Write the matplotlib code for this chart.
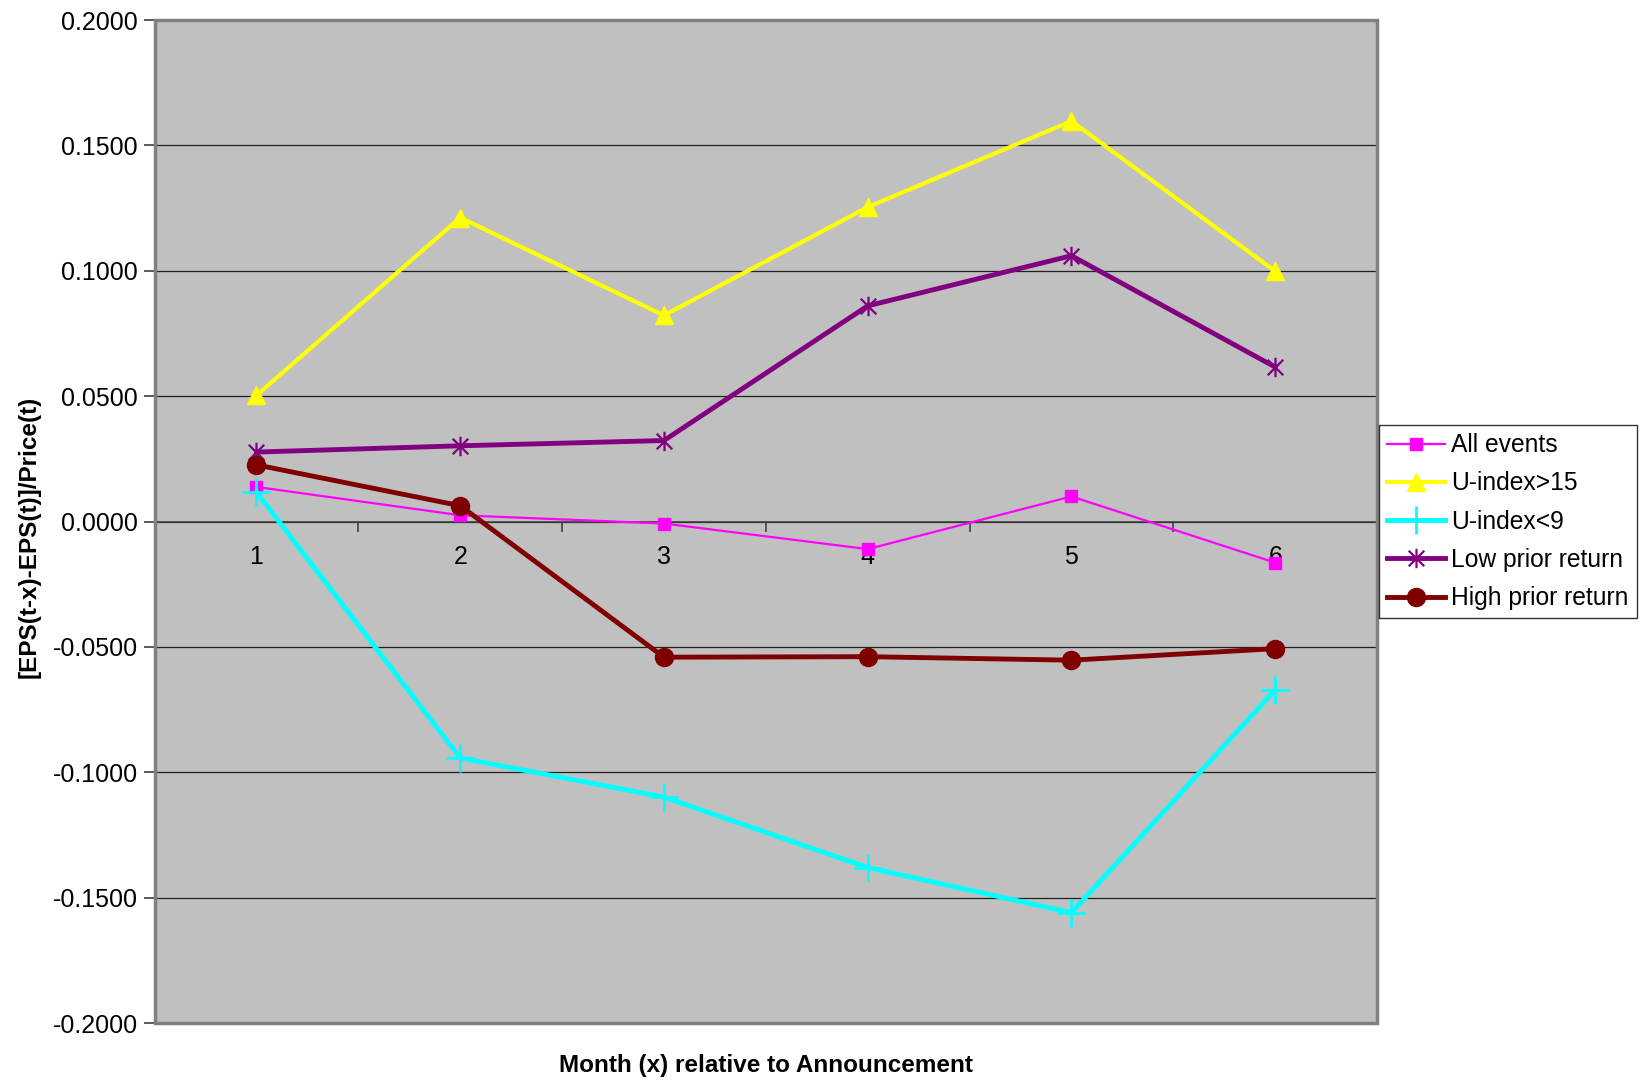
import matplotlib
matplotlib.use("Agg")
import matplotlib.pyplot as plt
from matplotlib.patches import Rectangle
from matplotlib.path import Path
from matplotlib.ticker import FormatStrFormatter, FixedLocator

months = [1, 2, 3, 4, 5, 6]
all_events = [0.0138, 0.0025, -0.0008, -0.0110, 0.0100, -0.0164]
u_high = [0.0503, 0.1212, 0.0822, 0.1254, 0.1597, 0.0998]
u_low = [0.0117, -0.0943, -0.1099, -0.1380, -0.1560, -0.0671]
low_prior = [0.0277, 0.0302, 0.0323, 0.0860, 0.1060, 0.0616]
high_prior = [0.0226, 0.0063, -0.0541, -0.0539, -0.0553, -0.0507]
yticks = [-0.2, -0.15, -0.1, -0.05, 0.0, 0.05, 0.1, 0.15, 0.2]

plt.rcParams['font.family'] = ['Liberation Sans', 'DejaVu Sans']

# asterisk marker: an X plus a vertical bar
star = Path([(-1, -1), (1, 1), (-1, 1), (1, -1), (0, -1.25), (0, 1.25)],
            [Path.MOVETO, Path.LINETO, Path.MOVETO, Path.LINETO, Path.MOVETO, Path.LINETO])

fig = plt.figure(figsize=(16.48, 10.82), dpi=100)
ax = fig.add_axes([0.0938, 0.0545, 0.8356 - 0.0938, 0.9815 - 0.0545])
ax.set_facecolor('#C0C0C0')

ax.plot(months, all_events, color='#FF00FF', lw=1.6, marker='s', ms=9,
        mec='#FF00FF', label='All events', zorder=3)
ax.plot(months, u_high, color='#FFFF00', lw=3, marker='^', ms=13,
        mec='#FFFF00', label='U-index>15', zorder=3)
ax.plot(months, u_low, color='#00FFFF', lw=3.5, marker='+', ms=20, mew=2,
        label='U-index<9', zorder=3)
ax.plot(months, low_prior, color='#800080', lw=3.5, marker=star, ms=14, mew=1.6,
        label='Low prior return', zorder=3)
ax.plot(months, high_prior, color='#800000', lw=3.5, marker='o', ms=13,
        label='High prior return', zorder=3)

ax.set_xlim(0.5, 6.5)
ax.set_ylim(-0.2, 0.2)
ax.set_yticks(yticks)
ax.yaxis.set_major_formatter(FormatStrFormatter('%.4f'))
ax.yaxis.grid(True, color='#202020', lw=0.9)
ax.set_axisbelow(True)

ax.spines['bottom'].set_position(('data', 0))
ax.spines['bottom'].set_color('#404040')
ax.spines['bottom'].set_linewidth(1.2)
ax.spines['top'].set_visible(False)
ax.spines['right'].set_visible(False)
ax.spines['left'].set_color('#404040')
ax.spines['left'].set_linewidth(1.2)
ax.add_patch(Rectangle((0, 0), 1, 1, transform=ax.transAxes, fill=False,
                       edgecolor='#808080', lw=2.5, clip_on=False, zorder=5))

ax.xaxis.set_major_locator(FixedLocator(months))
ax.set_xticklabels([str(m) for m in months])
ax.xaxis.set_minor_locator(FixedLocator([0.5, 1.5, 2.5, 3.5, 4.5, 5.5, 6.5]))
ax.tick_params(axis='x', which='major', length=0, pad=17, labelsize=18)
ax.tick_params(axis='x', which='minor', length=7, width=1.2, color='#404040', direction='out')
ax.tick_params(axis='y', length=8, width=1.2, color='#404040', direction='out',
               labelsize=18, pad=4)

fig.text(0.0175, 0.5035, '[EPS(t-x)-EPS(t)]/Price(t)', rotation=90, ha='center',
         va='center', fontsize=17.5, fontweight='bold')
fig.text(0.4645, 0.0155, 'Month (x) relative to Announcement', ha='center',
         va='center', fontsize=17.5, fontweight='bold')

leg = fig.legend(loc='upper left', bbox_to_anchor=(0.8368, 0.6072),
                 bbox_transform=fig.transFigure, frameon=True, fancybox=False,
                 edgecolor='black', fontsize=17.7, handlelength=2.35,
                 borderpad=0.33, labelspacing=0.58, handletextpad=0.25,
                 borderaxespad=0)
leg.get_frame().set_linewidth(1.0)

fig.savefig('out.png', dpi=100, facecolor='white')
